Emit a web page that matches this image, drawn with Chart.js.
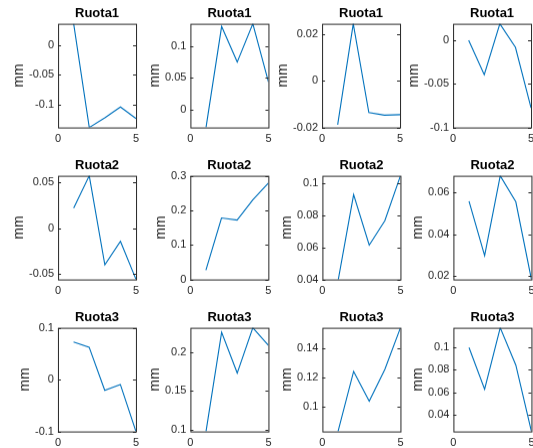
<!DOCTYPE html>
<html>
<head>
<meta charset="utf-8">
<script src="https://cdn.jsdelivr.net/npm/chart.js@4/dist/chart.umd.min.js"></script>
<style>
  html, body { margin: 0; padding: 0; background: #fff; }
  #fig { position: relative; width: 533px; height: 448px; overflow: hidden; background: #fff; }
  #fig canvas { position: absolute; }
</style>
</head>
<body>
<div id="fig"></div>
<script>
// x positions of the five samples
var categories = [1, 2, 3, 4, 5];
var xTicks = [0, 5];
var titles = ['Ruota1', 'Ruota2', 'Ruota3'];

// values (mm), one array per subplot
var ruota1A = [0.0356, -0.139, -0.1226, -0.1045, -0.124];
var ruota1B = [-0.0286, 0.1306, 0.0746, 0.1349, 0.0433];
var ruota1C = [-0.0188, 0.0245, -0.0136, -0.0147, -0.0145];
var ruota1D = [0, -0.0394, 0.0189, -0.0081, -0.0775];
var ruota2A = [0.0219, 0.0574, -0.0403, -0.0145, -0.0563];
var ruota2B = [0.0267, 0.178, 0.172, 0.230, 0.279];
var ruota2C = [0.039, 0.0931, 0.0615, 0.0768, 0.1049];
var ruota2D = [0.0558, 0.0298, 0.068, 0.0555, 0.0184];
var ruota3A = [0.0726, 0.0626, -0.0206, -0.0093, -0.1];
var ruota3B = [0.0978, 0.2258, 0.1732, 0.2316, 0.2087];
var ruota3C = [0.0827, 0.124, 0.1035, 0.1254, 0.154];
var ruota3D = [0.1, 0.0625, 0.1177, 0.0842, 0.0247];

// y limits and y tick labels per subplot
var yLimits = [
  [-0.139, 0.0356], [-0.0286, 0.1349], [-0.02, 0.0245], [-0.1, 0.0189],
  [-0.0563, 0.0574], [0, 0.3], [0.04, 0.1049], [0.0184, 0.068],
  [-0.1, 0.1], [0.0978, 0.2316], [0.0827, 0.154], [0.0247, 0.1177]
];
var yTicks = [
  [-0.1, -0.05, 0], [0, 0.05, 0.1], [-0.02, 0, 0.02], [-0.1, -0.05, 0],
  [-0.05, 0, 0.05], [0, 0.1, 0.2, 0.3], [0.04, 0.06, 0.08, 0.1], [0.02, 0.04, 0.06],
  [-0.1, 0, 0.1], [0.1, 0.15, 0.2], [0.1, 0.12, 0.14], [0.04, 0.06, 0.08, 0.1]
];

var series = [ruota1A, ruota1B, ruota1C, ruota1D,
              ruota2A, ruota2B, ruota2C, ruota2D,
              ruota3A, ruota3B, ruota3C, ruota3D];

// subplot boxes (layout)
var boxLeft = [58, 190, 322, 453];
var boxTop = [24, 176, 328];
var boxW = 78, boxH = 103;

var axisColor = '#262626';
Chart.defaults.font.family = "'Liberation Sans', Arial, sans-serif";

// MATLAB style box with inward ticks
var matlabBox = {
  id: 'matlabBox',
  afterDatasetsDraw: function (chart) {
    var a = chart.chartArea, ctx = chart.ctx, ys = chart.scales.y;
    ctx.save();
    ctx.strokeStyle = axisColor;
    ctx.lineWidth = 1;
    ctx.strokeRect(a.left + 0.5, a.top + 0.5, a.right - a.left, a.bottom - a.top);
    ctx.beginPath();
    ys.ticks.forEach(function (t) {
      var y = Math.round(ys.getPixelForValue(t.value)) + 0.5;
      ctx.moveTo(a.left, y); ctx.lineTo(a.left + 3, y);
      ctx.moveTo(a.right, y); ctx.lineTo(a.right - 3, y);
    });
    ctx.stroke();
    ctx.restore();
  }
};

var fig = document.getElementById('fig');

series.forEach(function (vals, i) {
  var row = Math.floor(i / 4), col = i % 4;
  var canvas = document.createElement('canvas');
  canvas.width = 160;
  canvas.height = 170;
  fig.appendChild(canvas);

  var chart = new Chart(canvas, {
    type: 'line',
    data: {
      datasets: [{
        data: categories.map(function (x, k) { return { x: x, y: vals[k] }; }),
        borderColor: '#0072BD',
        borderWidth: 1.1,
        pointRadius: 0,
        tension: 0,
        fill: false
      }]
    },
    options: {
      responsive: false,
      maintainAspectRatio: false,
      animation: false,
      layout: { padding: { left: 0, right: 4, top: 0, bottom: 0 } },
      plugins: {
        legend: { display: false },
        tooltip: { enabled: false }
      },
      scales: {
        x: {
          type: 'linear',
          min: 0,
          max: 5,
          afterBuildTicks: function (s) { s.ticks = xTicks.map(function (v) { return { value: v }; }); },
          ticks: { color: axisColor, font: { size: 11 }, padding: 5, maxRotation: 0,
                   callback: function (v) { return String(v); } },
          grid: { display: false, drawTicks: false },
          border: { display: false }
        },
        top: {
          type: 'linear',
          position: 'top',
          min: 0,
          max: 5,
          ticks: { display: false },
          grid: { display: false, drawTicks: false },
          border: { display: false },
          title: { display: true, text: titles[row], color: '#000',
                   font: { size: 13, weight: 'bold', lineHeight: 1.2 },
                   padding: { top: 2, bottom: 2 } }
        },
        y: {
          min: yLimits[i][0],
          max: yLimits[i][1],
          afterBuildTicks: function (s) { s.ticks = yTicks[i].map(function (v) { return { value: v }; }); },
          ticks: { color: axisColor, font: { size: 11 }, padding: 4,
                   callback: function (v) { return String(v); } },
          grid: { display: false, drawTicks: false },
          border: { display: false },
          title: { display: true, text: 'mm', color: axisColor,
                   font: { size: 14, lineHeight: 1 },
                   padding: { top: 0, bottom: -1 } }
        }
      }
    },
    plugins: [matlabBox]
  });

  // make the plot area exactly boxW x boxH, then place it
  var a = chart.chartArea;
  var w = canvas.width + (boxW - (a.right - a.left));
  var h = canvas.height + (boxH - (a.bottom - a.top));
  chart.resize(w, h);
  a = chart.chartArea;
  canvas.style.left = (boxLeft[col] - a.left) + 'px';
  canvas.style.top = (boxTop[row] - a.top) + 'px';
});
</script>
</body>
</html>
